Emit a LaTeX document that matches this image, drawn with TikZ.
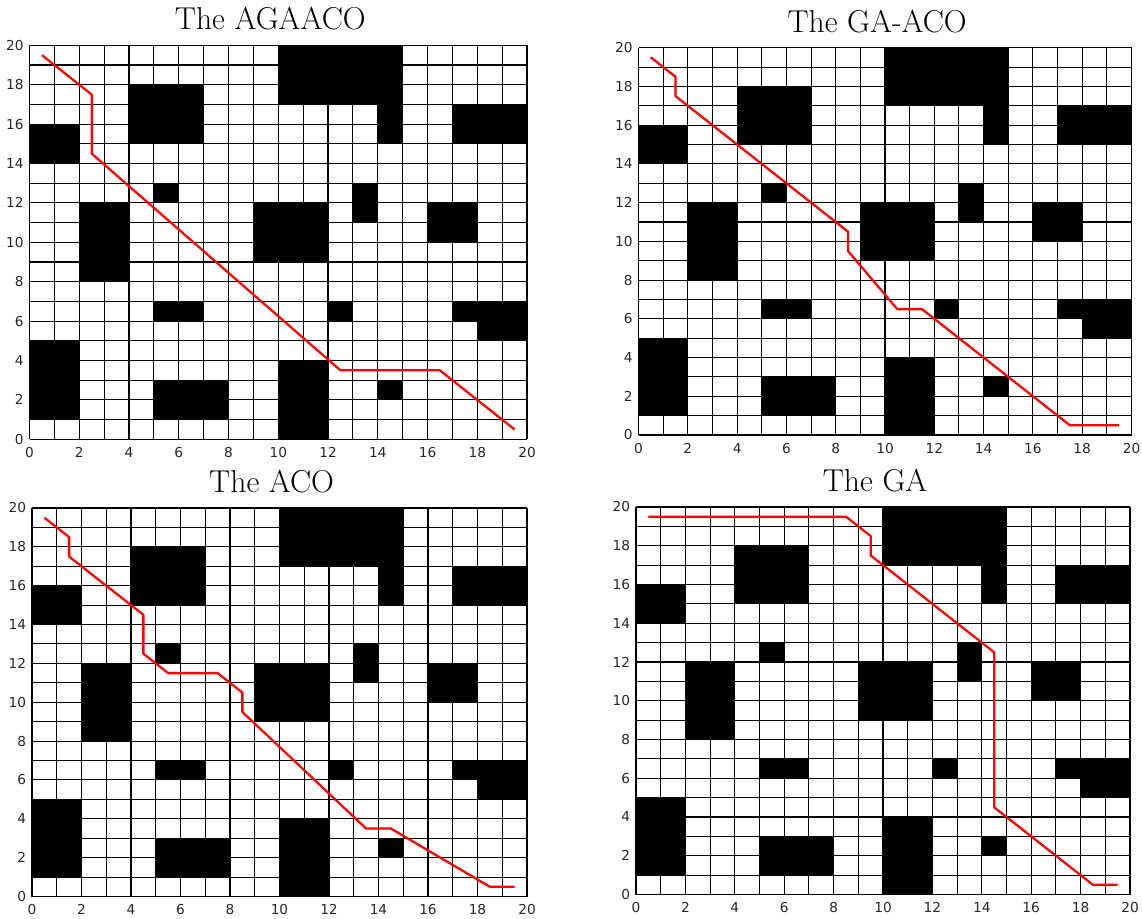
\documentclass[tikz,border=0pt]{standalone}
\usepackage{fontspec}
\usepackage{tikz}
\newfontfamily\ticksfont{DejaVu Sans}
\definecolor{routered}{RGB}{255,0,0}
\definecolor{tickgray}{RGB}{40,40,40}

% the same obstacle map in every panel, #1 = title
\newcommand{\obstaclemap}[2]{%
  \fill[black] (10,17) rectangle (15,20) (14,15) rectangle (15,17)
    (4,15) rectangle (7,18) (0,14) rectangle (2,16) (17,15) rectangle (20,17)
    (5,12) rectangle (6,13) (13,11) rectangle (14,13) (2,8) rectangle (4,12)
    (9,9) rectangle (12,12) (16,10) rectangle (18,12) (5,6) rectangle (7,7)
    (12,6) rectangle (13,7) (17,6) rectangle (20,7) (18,5) rectangle (20,6)
    (0,1) rectangle (2,5) (5,1) rectangle (8,3) (10,0) rectangle (12,4)
    (14,2) rectangle (15,3);
  \draw[gridline] (0,0) grid (20,20);
  \foreach \t in {0,2,...,20}{
    \node[ticklbl,anchor=east,inner xsep=3.2pt] (#2y\t) at (0,\t) {\t};
    \node[ticklbl,anchor=north,inner ysep=4.4pt] (#2x\t) at (\t,0) {\t};
  }
  \node[paneltitle] (#2title) at (9.68,20.8) {#1};
}

\begin{document}
\begin{tikzpicture}[
  gridline/.style={draw=black,line width=0.6pt},
  ticklbl/.style={font=\ticksfont\fontsize{7.8}{9}\selectfont,text=tickgray,inner sep=0pt},
  paneltitle/.style={font=\fontsize{18}{20}\selectfont,anchor=base,inner sep=0pt},
  route/.style={draw=routered,line width=1.3pt,line join=round}]
\useasboundingbox[fill=white] (0,0) rectangle (22.84,18.36);

% top left
\begin{scope}[shift={(0.59,9.574)},xscale=0.4975,yscale=0.394]
\obstaclemap{The AGAACO}{agaaco}
\draw[route] (0.5,19.5) -- (2.5,17.5) -- (2.5,14.5) -- (12.5,3.5) -- (16.5,3.5) -- (19.5,0.5);
\end{scope}

% top right
\begin{scope}[shift={(12.77,9.66)},xscale=0.493,yscale=0.3873]
\obstaclemap{The GA-ACO}{gaaco}
\draw[route] (0.5,19.5) -- (1.5,18.5) -- (1.5,17.5) -- (8.5,10.5) -- (8.5,9.5) -- (10.5,6.5)
  -- (11.5,6.5) -- (17.5,0.5) -- (19.5,0.5);
\end{scope}

% bottom left
\begin{scope}[shift={(0.64,0.43)},xscale=0.495,yscale=0.3885]
\obstaclemap{The ACO}{aco}
\draw[route] (0.5,19.5) -- (1.5,18.5) -- (1.5,17.5) -- (4.5,14.5) -- (4.5,12.5) -- (5.5,11.5)
  -- (7.5,11.5) -- (8.5,10.5) -- (8.5,9.5) -- (13.5,3.5) -- (14.5,3.5) -- (18.5,0.5) -- (19.5,0.5);
\end{scope}

% bottom right
\begin{scope}[shift={(12.72,0.47)},xscale=0.494,yscale=0.3875]
\obstaclemap{The GA}{ga}
\draw[route] (0.5,19.5) -- (8.5,19.5) -- (9.5,18.5) -- (9.5,17.5) -- (14.5,12.5) -- (14.5,4.5)
  -- (18.5,0.5) -- (19.5,0.5);
\end{scope}
\end{tikzpicture}
\end{document}
